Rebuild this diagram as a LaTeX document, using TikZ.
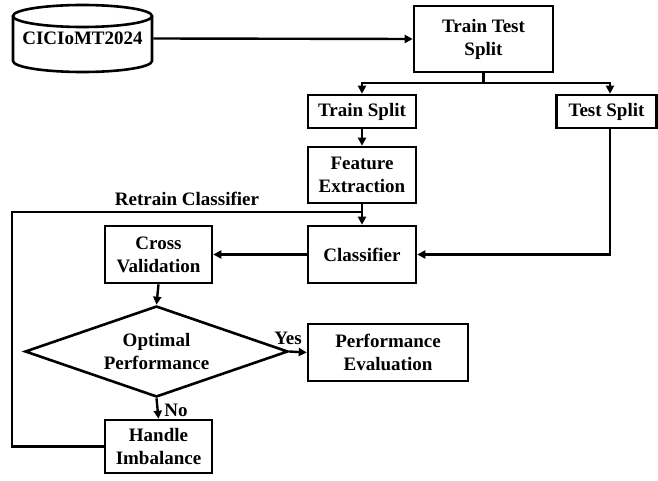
\documentclass[tikz,border=0pt]{standalone}
\usepackage{fontspec}
\setmainfont{Liberation Serif}
\usetikzlibrary{arrows.meta,shapes.geometric,calc}
\begin{document}
\begin{tikzpicture}[x=1pt,y=1pt,
  font=\fontsize{19}{23}\selectfont\bfseries,
  every path/.style={line width=2.6pt},
  box/.style={draw,rectangle,align=center,inner sep=0pt},
  conn/.style={line width=2.4pt,-{Triangle[length=8pt,width=8pt]}},
  plain/.style={line width=2.4pt},
  lbl/.style={inner sep=0pt}]
\useasboundingbox (0,0) rectangle (658,480);
% database cylinder
\node[inner sep=0pt,minimum width=139pt,minimum height=67pt] (db) at (82.5,441.5) {\raisebox{-6.5pt}{CICIoMT2024}};
\draw (82.5,464) ellipse [x radius=69.5, y radius=11];
\draw (13,464) -- (13,419) arc[start angle=180,end angle=360,x radius=69.5,y radius=11] -- (152,464);
% boxes
\node[box,minimum width=139pt,minimum height=66pt] (tts) at (483.5,441) {Train Test\\Split};
\node[box,minimum width=108pt,minimum height=33pt] (trs) at (362,368.5) {Train Split};
\node[box,minimum width=100pt,minimum height=33pt] (tes) at (606.5,368.5) {Test Split};
\node[box,minimum width=108pt,minimum height=56pt] (fe) at (362,305) {Feature\\Extraction};
\node[box,minimum width=108pt,minimum height=57pt] (cls) at (362,225.5) {Classifier};
\node[box,minimum width=107pt,minimum height=57pt] (cv) at (158.5,225.5) {Cross\\Validation};
\node[draw,diamond,aspect=2.89,minimum width=263pt,minimum height=91pt,inner sep=0pt,align=center] (dia) at (156.5,128.5) {Optimal\\Performance};
\node[box,minimum width=160pt,minimum height=57pt] (pe) at (388,127.5) {Performance\\Evaluation};
\node[box,minimum width=107pt,minimum height=53pt] (hi) at (158.5,33.5) {Handle\\Imbalance};
% labels
\node[lbl] (rl) at (187,281) {Retrain Classifier};
\node[lbl] (yl) at (288,142) {Yes};
\node[lbl] (nl) at (176,70) {No};
% connectors
\draw[conn] (db.east) -- (tts.west);
\coordinate (sj) at ($(tts.south)+(0,-10)$);
\draw[plain] (tts.south) -- (sj);
\draw[conn] (sj) -| (trs.north);
\draw[conn] (sj) -| ([xshift=3.5pt]tes.north);
\draw[conn] (trs.south) -- (fe.north);
\draw[conn] (fe.south) -- (cls.north);
\draw[conn] ([xshift=3.5pt]tes.south) |- (cls.east);
\draw[conn] (cls.west) -- (cv.east);
\draw[conn] (cv.south) -- (dia.north);
\draw[conn] (dia.east) -- (pe.west);
\draw[conn] (dia.south) -- (hi.north);
\coordinate (lc) at (12,268);
\coordinate (rj) at (362,268);
\draw[plain] (hi.west) -| (lc) -- (rj);
\end{tikzpicture}
\end{document}
